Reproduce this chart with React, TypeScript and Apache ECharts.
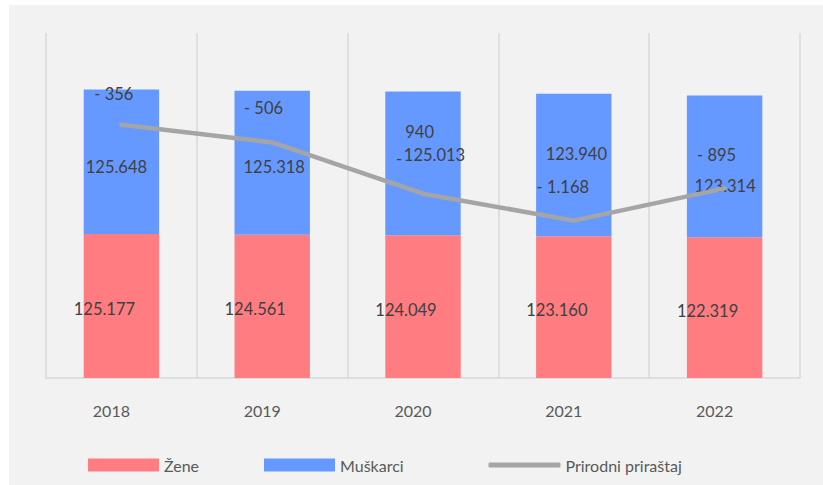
import React, { useEffect, useRef } from "react";
import * as echarts from "echarts";

const years = ["2018", "2019", "2020", "2021", "2022"];
const zene = [125177, 124561, 124049, 123160, 122319];
const muskarci = [125648, 125318, 125013, 123940, 123314];
const prirast = [-356, -506, -940, -1168, -895];

const FONT = "Lato";
const LABEL_COLOR = "#404040";
const AXIS_COLOR = "#595959";

const fmt = (n: number) =>
  Math.abs(n)
    .toString()
    .replace(/\B(?=(\d{3})+(?!\d))/g, ".");

// label offsets (styling)
const menOffsets = [
  [-5, 5],
  [2, 4.5],
  [11.5, -8.5],
  [2.5, -11],
  [0.5, 20],
];
const lineOffsets = [
  [-7.5, -30.5],
  [-8.7, -34],
  [-8, -48],
  [-11, -33.6],
  [-8, -33.3],
];
const splitLabelIdx = 2;

export default function App() {
  const ref = useRef<HTMLDivElement>(null);

  useEffect(() => {
    document.body.style.margin = "0";
    if (!ref.current) return;
    const chart = echarts.init(ref.current, undefined, { renderer: "svg" });

    const labelBase = {
      fontFamily: FONT,
      fontSize: 16.5,
      color: LABEL_COLOR,
    };

    chart.setOption({
      animation: false,
      backgroundColor: "transparent",
      grid: { left: 37, right: 23, top: 28, bottom: 107 },
      legend: [
        {
          data: [{ name: "Žene", icon: "rect" }],
          left: 79,
          top: 452,
          padding: 0,
          itemWidth: 71,
          itemHeight: 13,
          textStyle: { fontFamily: FONT, fontSize: 16, color: AXIS_COLOR, lineHeight: 16 },
          selectedMode: false,
        },
        {
          data: [{ name: "Muškarci", icon: "rect" }],
          left: 255,
          top: 452,
          padding: 0,
          itemWidth: 71,
          itemHeight: 13,
          textStyle: { fontFamily: FONT, fontSize: 16, color: AXIS_COLOR, lineHeight: 16 },
          selectedMode: false,
        },
        {
          data: [
            {
              name: "Prirodni priraštaj",
              icon: "roundRect",
              itemStyle: { color: "#A5A5A5", borderWidth: 0 },
            },
          ],
          left: 479.5,
          top: 452,
          padding: 0,
          itemWidth: 72,
          itemHeight: 5,
          textStyle: { fontFamily: FONT, fontSize: 16, color: AXIS_COLOR, lineHeight: 16 },
          selectedMode: false,
        },
      ],
      xAxis: {
        type: "category",
        data: years,
        boundaryGap: true,
        axisLine: { show: true, lineStyle: { color: "#D9D9D9", width: 1.5 } },
        axisTick: { show: false },
        splitLine: { show: true, lineStyle: { color: "#D9D9D9", width: 1.5 } },
        axisLabel: {
          fontFamily: FONT,
          fontSize: 16,
          color: AXIS_COLOR,
          margin: 24.5,
          lineHeight: 16,
          padding: [0, 20, 0, 0],
        },
      },
      yAxis: [
        {
          type: "value",
          min: 0,
          max: 300000,
          show: false,
          splitLine: { show: false },
        },
        {
          type: "value",
          min: -2500,
          max: 420,
          show: false,
          splitLine: { show: false },
        },
      ],
      series: [
        {
          name: "Žene",
          type: "bar",
          stack: "pop",
          barWidth: "50%",
          itemStyle: { color: "#FF7C80" },
          data: zene,
          label: {
            show: true,
            position: "inside",
            offset: [-17, 3],
            formatter: (p: any) => fmt(p.value),
            ...labelBase,
          },
          z: 2,
        },
        {
          name: "Muškarci",
          type: "bar",
          stack: "pop",
          barWidth: "50%",
          itemStyle: { color: "#6699FF" },
          data: muskarci.map((v, i) => ({
            value: v,
            label: { offset: menOffsets[i] },
          })),
          label: {
            show: true,
            position: "inside",
            formatter: (p: any) => fmt(p.value),
            ...labelBase,
          },
          z: 2,
        },
        {
          name: "Prirodni priraštaj",
          type: "line",
          yAxisIndex: 1,
          symbol: "circle",
          symbolSize: 0.5,
          showSymbol: true,
          itemStyle: { color: "#A5A5A5" },
          lineStyle: { color: "#A5A5A5", width: 4.5, cap: "round", join: "round" },
          data: prirast.map((v, i) => ({
            value: v,
            label: { offset: lineOffsets[i] },
          })),
          label: {
            show: true,
            position: "inside",
            ...labelBase,
            formatter: (p: any) => {
              const v = p.value as number;
              if (p.dataIndex === splitLabelIdx) {
                return "{n|" + fmt(v) + "}\n{d|" + (v < 0 ? "-" : "") + "}";
              }
              return (v < 0 ? "- " : "") + fmt(v);
            },
            rich: {
              n: { ...labelBase, width: 38, align: "right", lineHeight: 27 },
              d: { ...labelBase, width: 38, align: "left", lineHeight: 27 },
            },
          },
          z: 5,
        },
      ],
    });

    return () => chart.dispose();
  }, []);

  return (
    <div
      style={{
        position: "relative",
        width: 823,
        height: 485,
        background: "#FFFFFF",
        overflow: "hidden",
      }}
    >
      <div
        ref={ref}
        style={{
          position: "absolute",
          left: 9,
          top: 5,
          width: 814,
          height: 480,
          background: "#F2F2F2",
        }}
      />
    </div>
  );
}
